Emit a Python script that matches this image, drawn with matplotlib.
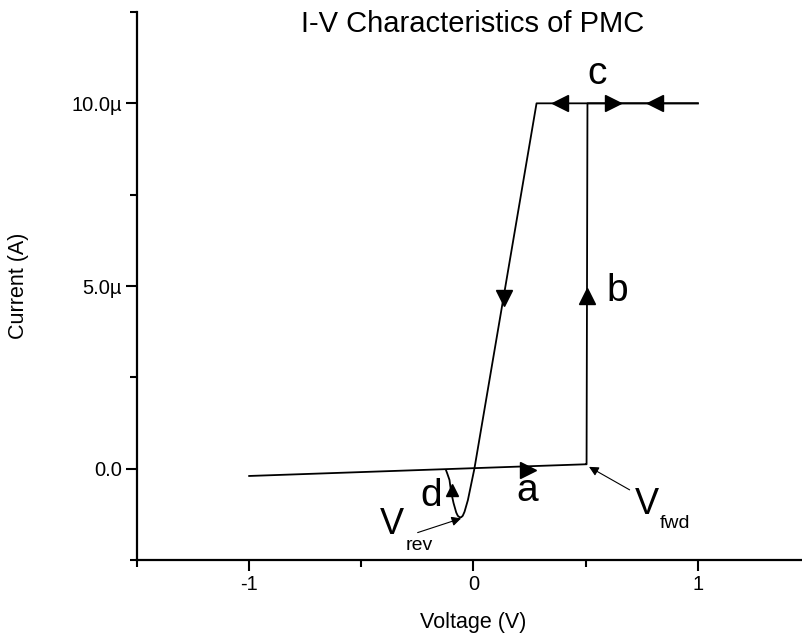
import matplotlib
matplotlib.use("Agg")
import matplotlib.pyplot as plt
from matplotlib.ticker import FixedLocator, FuncFormatter

plt.rcParams['font.family'] = ['Liberation Sans', 'DejaVu Sans']

# forward sweep: flat low-current branch, switching at V_fwd, up to compliance
v_fwd = [-1.0, 0.5, 0.504, 0.508, 1.0]
i_fwd = [-0.2, 0.12, 0.12, 10.0, 10.0]

# reverse sweep: back along compliance, ramp down through zero to V_rev, then the "d" hook
v_rev = [1.0, 0.281, 0.004, -0.025, -0.040, -0.048, -0.055, -0.062, -0.070,
         -0.077, -0.089, -0.100, -0.107, -0.116, -0.122]
i_rev = [10.0, 10.0, 0.0, -0.86, -1.18, -1.29, -1.33, -1.33, -1.29,
         -1.20, -0.94, -0.63, -0.31, -0.15, -0.05]

# direction markers on the curve (V, I in uA, marker)
arrows = [
    (0.241, -0.03, '>'),
    (0.504, 4.73, '^'),
    (0.134, 4.67, 'v'),
    (0.384, 10.0, '<'),
    (0.622, 10.0, '>'),
    (0.808, 10.0, '<'),
]
arrow_d = (-0.098, -0.58)

# segment letters
letters = ['a', 'b', 'c', 'd']
letter_v = [0.241, 0.643, 0.549, -0.189]
letter_i = [-0.61, 4.86, 10.79, -0.75]

fig = plt.figure(figsize=(8.03, 6.42), dpi=100)
ax = fig.add_axes([137 / 803, 82 / 642, 673 / 803, 548 / 642])

u = 1e-6
ax.plot(v_fwd, [i * u for i in i_fwd], color='black', lw=1.3)
ax.plot(v_rev, [i * u for i in i_rev], color='black', lw=1.3)

for v, i, m in arrows:
    ax.plot(v, i * u, marker=m, ms=11, color='black', ls='none')
ax.plot(arrow_d[0], arrow_d[1] * u, marker='^', ms=8, color='black', ls='none')

for s, v, i in zip(letters, letter_v, letter_i):
    ax.text(v, i * u, s, fontsize=28, ha='center', va='center')

# V_fwd / V_rev labels with pointers
ax.annotate('', xy=(0.515, 0.05 * u), xytext=(0.696, -0.58 * u),
            arrowprops=dict(arrowstyle='-|>', color='black', lw=0.8,
                            mutation_scale=14, shrinkA=0, shrinkB=0))
ax.text(0.775, -0.97 * u, 'V', fontsize=26, ha='center', va='center')
ax.text(0.897, -1.51 * u, 'fwd', fontsize=14, ha='center', va='center')

ax.annotate('', xy=(-0.055, -1.36 * u), xytext=(-0.249, -1.75 * u),
            arrowprops=dict(arrowstyle='-|>', color='black', lw=0.8,
                            mutation_scale=14, shrinkA=0, shrinkB=0))
ax.text(-0.364, -1.54 * u, 'V', fontsize=26, ha='center', va='center')
ax.text(-0.241, -2.09 * u, 'rev', fontsize=14, ha='center', va='center')

ax.set_xlim(-1.5, 1.5)
ax.set_ylim(-2.5 * u, 12.5 * u)

ax.xaxis.set_major_locator(FixedLocator([-1, 0, 1]))
ax.xaxis.set_minor_locator(FixedLocator([-1.5, -0.5, 0.5, 1.5]))
ax.yaxis.set_major_locator(FixedLocator([0, 5 * u, 10 * u]))
ax.yaxis.set_minor_locator(FixedLocator([-2.5 * u, 2.5 * u, 7.5 * u, 12.5 * u]))
ax.xaxis.set_major_formatter(FuncFormatter(lambda x, p: f'{x:g}'))
ax.yaxis.set_major_formatter(
    FuncFormatter(lambda y, p: '0.0' if abs(y) < 1e-12 else f'{y / u:.1f}\u00b5'))

ax.tick_params(which='major', direction='out', length=8, width=1.5, labelsize=14.5, pad=3)
ax.tick_params(which='minor', direction='out', length=5, width=1.5)

for side in ['top', 'right']:
    ax.spines[side].set_visible(False)
for side in ['left', 'bottom']:
    ax.spines[side].set_linewidth(1.6)

ax.set_xlabel('Voltage (V)', fontsize=15.5, labelpad=13)
ax.set_ylabel('Current (A)', fontsize=15.5, labelpad=30)

fig.text(473 / 803, 1 - 24 / 642, 'I-V Characteristics of PMC', fontsize=21,
         ha='center', va='center')

fig.savefig('out.png', dpi=100)
